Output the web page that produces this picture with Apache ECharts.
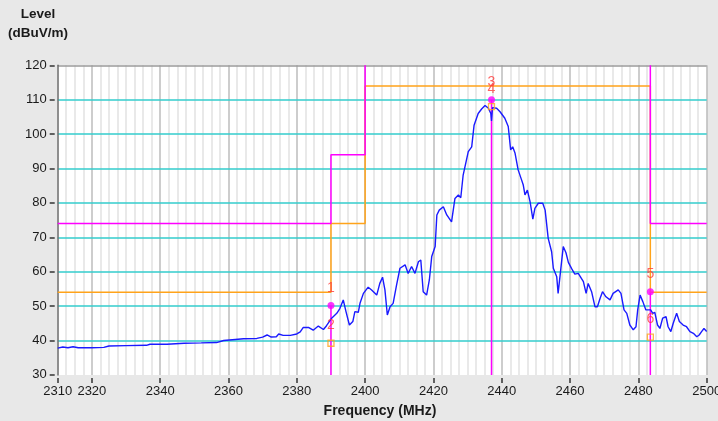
<!DOCTYPE html>
<html><head><meta charset="utf-8">
<script src="https://cdn.jsdelivr.net/npm/echarts@6/dist/echarts.min.js"></script>
<style>html,body{margin:0;padding:0;background:#e8e8e8}#c{width:718px;height:421px}</style>
</head><body><div id="c"></div>
<script>
// ---- data ----
const freqs = [2310.0,2311.5,2313.0,2314.5,2316.0,2320.0,2323.5,2325.0,2330.0,2336.0,2337.0,2342.0,2347.0,2352.0,2356.5,2358.6,2362.0,2364.4,2368.3,2370.0,2371.3,2372.5,2374.0,2374.7,2376.0,2378.1,2380.0,2381.0,2381.9,2383.4,2384.8,2386.3,2387.8,2388.7,2390.2,2391.7,2392.6,2393.6,2394.4,2395.4,2396.4,2397.0,2398.0,2398.5,2399.5,2400.9,2401.9,2403.4,2404.3,2405.1,2405.8,2406.5,2407.3,2408.2,2409.2,2410.2,2411.7,2412.6,2413.6,2414.6,2415.6,2416.3,2417.0,2418.0,2418.8,2419.5,2420.5,2421.0,2421.7,2422.9,2423.9,2425.3,2426.3,2427.3,2428.0,2428.7,2430.2,2431.2,2431.9,2433.1,2434.1,2435.1,2436.1,2436.8,2437.0,2437.3,2438.5,2439.5,2440.9,2441.9,2442.6,2443.2,2443.9,2444.8,2445.8,2446.3,2446.8,2447.5,2448.3,2449.1,2449.7,2450.7,2452.0,2452.7,2453.6,2454.6,2455.1,2455.6,2456.1,2456.5,2457.2,2458.0,2458.8,2459.5,2460.5,2461.4,2462.4,2463.9,2464.7,2465.3,2466.3,2467.3,2468.0,2468.8,2469.5,2470.5,2471.7,2472.6,2474.1,2474.9,2475.8,2476.6,2477.5,2478.5,2479.3,2479.8,2480.5,2481.3,2482.2,2482.9,2483.6,2484.2,2484.8,2485.6,2486.3,2487.1,2488.1,2488.7,2489.5,2490.2,2491.2,2492.0,2493.1,2494.1,2495.1,2496.1,2497.1,2497.8,2498.5,2499.2,2500.0];
const levels = [37.8,38.1,37.9,38.2,37.9,37.9,38.0,38.4,38.5,38.6,38.9,38.9,39.2,39.3,39.4,40.0,40.3,40.5,40.6,41.0,41.6,41.0,41.1,41.9,41.5,41.5,41.9,42.5,43.8,43.8,43.0,44.2,43.2,44.3,46.5,47.9,49.3,51.8,48.4,44.5,45.5,48.4,48.2,50.8,53.7,55.5,54.7,53.2,56.6,58.4,54.7,47.4,49.8,50.8,56.1,61.0,62.0,59.5,61.5,59.5,62.9,63.4,54.2,53.2,57.6,64.4,67.3,76.5,77.9,78.9,76.5,74.5,81.3,82.3,81.5,88.1,94.9,96.3,102.6,106.0,107.3,108.3,107.5,106.0,103.8,107.7,107.5,106.5,104.6,102.2,95.4,96.3,94.4,89.6,86.7,85.2,82.3,83.7,80.3,75.3,78.4,79.9,79.9,77.9,69.7,65.8,61.0,61.2,58.5,53.7,60.0,67.3,65.5,62.7,60.8,59.3,59.5,57.1,53.7,56.6,54.2,49.8,49.8,52.3,54.2,52.7,51.8,53.7,54.7,53.7,48.9,47.9,44.5,43.1,44.0,48.9,53.2,51.3,48.9,48.9,48.9,47.9,48.2,44.5,43.5,46.5,46.9,44.0,42.6,45.0,47.9,45.5,44.5,44.0,42.6,42.1,41.1,41.6,42.6,43.5,42.6];

const avgLimitFreq  = [2310, 2390, 2390, 2400, 2400, 2483.5, 2483.5, 2500];
const avgLimitLevel = [54, 54, 74, 74, 114, 114, 54, 54];
const peakLimitFreqA  = [2310, 2390, 2390, 2400, 2400];
const peakLimitLevelA = [74, 74, 94, 94, 120];
const peakLimitFreqB  = [2483.5, 2483.5, 2500];
const peakLimitLevelB = [120, 74, 74];

const markerIds   = ['1', '2', '3', '4', '5', '6'];
const markerFreq  = [2390, 2390, 2437, 2437, 2483.5, 2483.5];
const markerLevel = [50.2, 39.2, 110.0, 108.0, 54.2, 41.0];
const markerKind  = ['peak', 'avg', 'peak', 'avg', 'peak', 'avg'];

const xTickLabels = [2310, 2320, 2340, 2360, 2380, 2400, 2420, 2440, 2460, 2480, 2500];
const xMin = 2310, xMax = 2500, xMinorStep = 2.5;
const yMin = 30, yMax = 120, yStep = 10;
const yTitle = ['Level', '(dBuV/m)'];
const xTitle = 'Frequency (MHz)';

// ---- build ----
const FONT = '"Liberation Sans", Arial, sans-serif';
const zip = (a, b) => a.map((v, i) => [v, b[i]]);
const MAG = '#ff00ff', ORG = '#ffa31a', CYAN = '#33cccc', BLUE = '#1a1aff';

const xColors = [];
for (let i = 0; i < 8; i++) xColors.push(i === 4 ? '#bdbdbd' : '#e2e2e2');
const yColors = [];
for (let v = yMin; v <= yMax; v += yStep) yColors.push(v === yMin ? 'rgba(0,0,0,0)' : (v === yMax ? '#9a9a9a' : CYAN));

const markerLineSeries = [];
markerIds.forEach((id, i) => {
  if (markerKind[i] !== 'peak') return;
  markerLineSeries.push({
    type: 'line', silent: true, symbol: 'none', z: 2,
    lineStyle: { color: MAG, width: 1.5 },
    data: [[markerFreq[i], markerLevel[i]], [markerFreq[i], yMin]]
  });
});

function markerSeries(kind) {
  const data = [];
  markerIds.forEach((id, i) => { if (markerKind[i] === kind) data.push({ value: [markerFreq[i], markerLevel[i]], name: id }); });
  return {
    type: 'scatter', z: 10, silent: true,
    symbol: kind === 'peak' ? 'circle' : 'rect',
    symbolSize: kind === 'peak' ? 7 : 6,
    itemStyle: kind === 'peak' ? { color: MAG } : { color: 'rgba(255,255,255,0)', borderColor: ORG, borderWidth: 1.3 },
    label: { show: true, position: 'top', distance: 7, formatter: p => p.name, color: '#ff3b3b', fontSize: 14, fontFamily: FONT },
    data
  };
}

const chart = echarts.init(document.getElementById('c'), null, { renderer: 'canvas' });
chart.setOption({
  backgroundColor: '#e8e8e8',
  animation: false,
  grid: { left: 57.7, right: 11.3, top: 65.3, bottom: 46.1, show: true, backgroundColor: '#ffffff', borderWidth: 0,
          containLabel: false, outerBoundsMode: 'none' },
  xAxis: [
    { type: 'value', min: xMin, max: xMax, interval: xMinorStep, position: 'bottom', z: 0,
      axisLine: { show: false }, axisTick: { show: false }, axisLabel: { show: false },
      splitLine: { show: true, lineStyle: { color: xColors, width: 1.5, type: 'solid' } } },
    { type: 'value', min: xMin, max: xMax, position: 'bottom', offset: 3,
      axisLine: { show: false },
      axisTick: { show: true, length: 5, customValues: xTickLabels, lineStyle: { color: '#333', width: 1.5 } },
      axisLabel: { show: true, customValues: xTickLabels, margin: 7, color: '#1a1a1a', fontSize: 13, fontFamily: FONT,
                   formatter: v => String(v) },
      splitLine: { show: false } }
  ],
  yAxis: [
    { type: 'value', min: yMin, max: yMax, interval: yStep, position: 'left', z: 1,
      axisLine: { show: true, lineStyle: { color: '#707070', width: 1.5 } },
      axisTick: { show: false }, axisLabel: { show: false },
      splitLine: { show: true, lineStyle: { color: yColors, width: 1.6, type: 'solid' } } },
    { type: 'value', min: yMin, max: yMax, interval: yStep, position: 'left', offset: 3,
      axisLine: { show: false },
      axisTick: { show: true, length: 5, lineStyle: { color: '#333', width: 1.5 } },
      axisLabel: { show: true, margin: 8, color: '#1a1a1a', fontSize: 13, fontFamily: FONT, formatter: v => String(v) },
      splitLine: { show: false } }
  ],
  graphic: [
    { type: 'text', x: 38, y: 14, style: { text: yTitle[0], align: 'center', verticalAlign: 'middle', font: 'bold 13.5px ' + FONT, fill: '#1a1a1a' } },
    { type: 'text', x: 38, y: 33, style: { text: yTitle[1], align: 'center', verticalAlign: 'middle', font: 'bold 13.5px ' + FONT, fill: '#1a1a1a' } },
    { type: 'text', x: 380, y: 411, style: { text: xTitle, align: 'center', verticalAlign: 'middle', font: 'bold 14px ' + FONT, fill: '#1a1a1a' } }
  ],
  series: [
    ...markerLineSeries,
    { type: 'line', silent: true, symbol: 'none', z: 3, lineStyle: { color: ORG, width: 1.5 }, data: zip(avgLimitFreq, avgLimitLevel) },
    { type: 'line', silent: true, symbol: 'none', z: 4, lineStyle: { color: MAG, width: 1.5 }, data: zip(peakLimitFreqA, peakLimitLevelA) },
    { type: 'line', silent: true, symbol: 'none', z: 4, lineStyle: { color: MAG, width: 1.5 }, data: zip(peakLimitFreqB, peakLimitLevelB) },
    { type: 'line', silent: true, symbol: 'none', z: 5, lineStyle: { color: BLUE, width: 1.4 }, data: zip(freqs, levels) },
    markerSeries('peak'),
    markerSeries('avg')
  ]
});
</script></body></html>
